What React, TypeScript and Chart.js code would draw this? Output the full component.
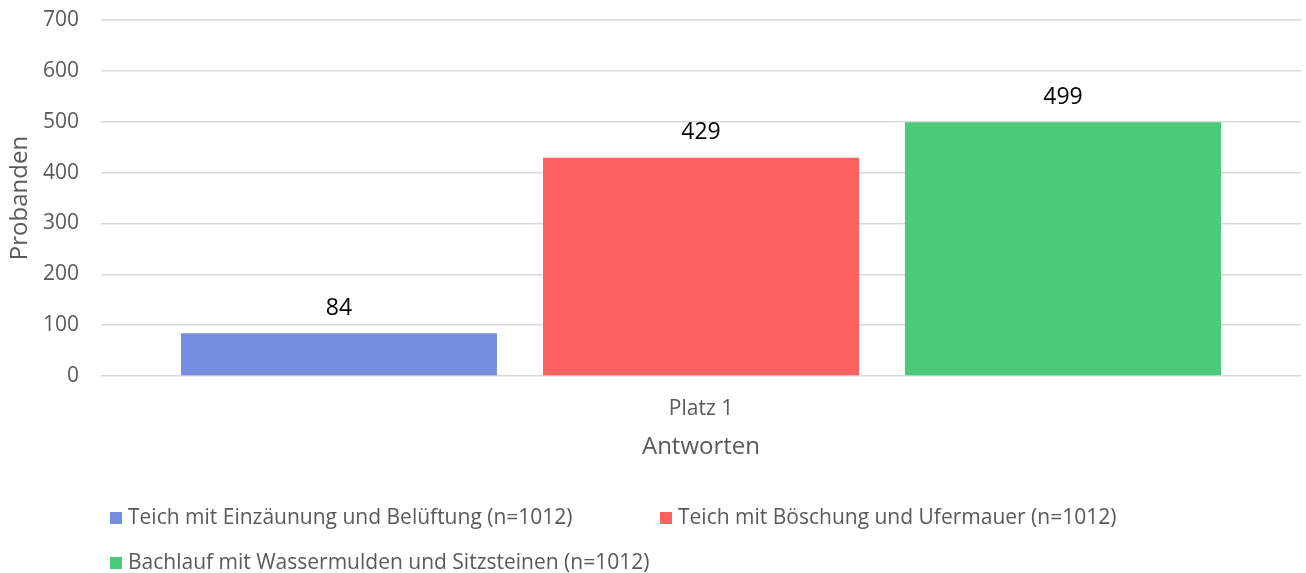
import React, { useEffect, useRef } from "react";
import { Chart, registerables } from "chart.js";

Chart.register(...registerables);

const categories = ["Platz 1"];
const seriesNames = [
  "Teich mit Einzäunung und Belüftung (n=1012)",
  "Teich mit Böschung und Ufermauer (n=1012)",
  "Bachlauf mit Wassermulden und Sitzsteinen (n=1012)",
];
const seriesValues = [[84], [429], [499]];
const seriesColors = ["#758fe0", "#ff6060", "#4bcb7a"];
const yTicks = [0, 100, 200, 300, 400, 500, 600, 700];

const FONT = "'Open Sans', sans-serif";
const GRAY = "#595959";

const valueLabels = {
  id: "valueLabels",
  afterDatasetsDraw(chart: any) {
    const ctx = chart.ctx;
    ctx.save();
    ctx.font = `23px ${FONT}`;
    ctx.fillStyle = "#000";
    ctx.textAlign = "center";
    ctx.textBaseline = "middle";
    chart.data.datasets.forEach((ds: any, i: number) => {
      const meta = chart.getDatasetMeta(i);
      meta.data.forEach((bar: any, j: number) => {
        ctx.fillText(String(ds.data[j]), bar.x, bar.y - 25);
      });
    });
    ctx.restore();
  },
};

const customLegend = {
  id: "customLegend",
  afterDraw(chart: any) {
    const ctx = chart.ctx;
    const pos = [
      [110, 518],
      [660, 518],
      [110, 563],
    ];
    ctx.save();
    ctx.font = `21px ${FONT}`;
    ctx.textBaseline = "middle";
    ctx.textAlign = "left";
    chart.data.datasets.forEach((ds: any, i: number) => {
      const [x, y] = pos[i];
      ctx.fillStyle = ds.backgroundColor;
      ctx.fillRect(x, y - 6, 12, 12);
      ctx.fillStyle = GRAY;
      ctx.fillText(ds.label, x + 18, y);
    });
    ctx.restore();
  },
};

export default function App() {
  const ref = useRef<HTMLCanvasElement>(null);
  useEffect(() => {
    if (!ref.current) return;
    const chart = new Chart(ref.current, {
      type: "bar",
      data: {
        labels: categories,
        datasets: seriesNames.map((name, i) => ({
          label: name,
          data: seriesValues[i],
          backgroundColor: seriesColors[i],
          barPercentage: 0.873,
          categoryPercentage: 0.905,
        })),
      },
      options: {
        animation: false,
        responsive: false,
        maintainAspectRatio: false,
        layout: { padding: { top: 20, right: 5, bottom: 100, left: 0 } },
        plugins: {
          legend: { display: false },
          tooltip: { enabled: false },
        },
        scales: {
          x: {
            grid: { display: false, drawTicks: false },
            border: { display: false },
            ticks: { color: GRAY, font: { family: FONT, size: 21 }, padding: 20 },
            title: {
              display: true,
              text: "Antworten",
              color: GRAY,
              font: { family: FONT, size: 24 },
              padding: { top: 0, bottom: 11 },
            },
            afterFit(scale: any) {
              scale.height = 97;
            },
          },
          y: {
            min: 0,
            max: 700,
            afterBuildTicks(scale: any) {
              scale.ticks = yTicks.map((v) => ({ value: v }));
            },
            grid: { color: "#d9d9d9", lineWidth: 1.5, drawTicks: false },
            border: { display: false },
            ticks: { color: GRAY, font: { family: FONT, size: 21 }, padding: 22 },
            title: {
              display: true,
              text: "Probanden",
              color: GRAY,
              font: { family: FONT, size: 24 },
              padding: { top: 6, bottom: 0 },
            },
            afterFit(scale: any) {
              scale.width = 101;
              scale.paddingTop = 0;
              scale.paddingBottom = 0;
            },
          },
        },
      },
      plugins: [valueLabels, customLegend],
    });
    return () => chart.destroy();
  }, []);
  return (
    <div style={{ position: "fixed", left: 0, top: 0, width: 1306, height: 573, background: "#fff" }}>
      <canvas ref={ref} width={1306} height={573} style={{ display: "block" }} />
    </div>
  );
}
